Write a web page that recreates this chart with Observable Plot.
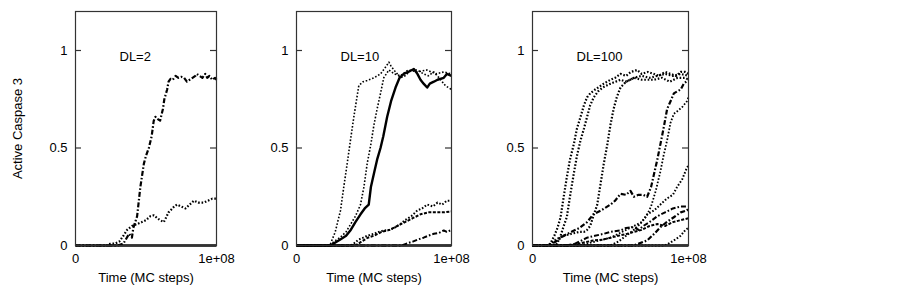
<!DOCTYPE html>
<html><head><meta charset="utf-8">
<script src="https://cdn.jsdelivr.net/npm/d3@7"></script>
<script src="https://cdn.jsdelivr.net/npm/@observablehq/plot@0.6"></script>
<style>
body{margin:0;background:#fff}
#c{position:relative;width:902px;height:301px;font-family:"Liberation Sans",Arial,sans-serif}
#c > div{position:absolute;top:0}
</style>
</head><body><div id="c"></div><script>
// ---- axis ticks ----
const yTicks = [0, 0.5, 1];
const yTickLabels = ["0", "0.5", "1"];
const xTicks = [0, 1e8];
const xTickLabels = ["0", "1e+08"];
const panelTitles = ["DL=2", "DL=10", "DL=100"];
const yLabel = "Active Caspase 3";
const xLabel = "Time (MC steps)";

// ---- data: time in millions of MC steps, value = active caspase 3 ----
const zeroT = [0, 100];
const zeroV = [0, 0];

// DL=2
const dl2aT = [0,30,34,38,40,41,43.7,46,48.5,50,52,54,55.5,56.7,58,60,62,63,65,66,67.4,69,71,73,75,77,79,81,83,85,86,88,90,92,93.4,95,97,99,100];
const dl2aV = [0,0,0.01,0.06,0.04,0.09,0.15,0.3,0.42,0.46,0.5,0.56,0.64,0.66,0.65,0.64,0.7,0.75,0.8,0.84,0.855,0.85,0.87,0.86,0.865,0.86,0.84,0.85,0.86,0.87,0.88,0.87,0.86,0.88,0.86,0.87,0.85,0.86,0.85];
const dl2bT = [0,22,25,28,31,34,36.6,40,43.7,47,50,53,55.5,58,60,62.6,64,66,67.4,70,72,75,78,81,84,87,91,94,97,100];
const dl2bV = [0,0,0.01,0.01,0.02,0.05,0.08,0.1,0.11,0.12,0.13,0.15,0.155,0.14,0.13,0.12,0.14,0.17,0.18,0.2,0.21,0.2,0.19,0.21,0.23,0.22,0.22,0.23,0.24,0.24];

// DL=10
const dl10aT = [0,20,22,25,28.4,30.5,32.7,35,37,39,40.2,43,45.6,50,54.2,57,59.6,61,62.8,65,67,70,74,77.9,82,85,88.6,92,96,100];
const dl10aV = [0,0,0.01,0.07,0.18,0.3,0.42,0.55,0.66,0.76,0.82,0.84,0.846,0.86,0.88,0.91,0.94,0.92,0.9,0.88,0.86,0.87,0.9,0.9,0.88,0.87,0.89,0.86,0.82,0.80];
const dl10bT = [0,22,24,28,32,35,38,41.3,43.5,45.6,48,50,52,54.2,56.3,59.6,63,67,72,78,84,90,95,100];
const dl10bV = [0,0,0.02,0.04,0.07,0.11,0.15,0.21,0.3,0.42,0.52,0.62,0.7,0.78,0.86,0.9,0.88,0.87,0.9,0.89,0.9,0.88,0.89,0.88];
const dl10cT = [0,22,24,28,32,35,38,41.3,44,46.6,48,50,52,54.2,56,58.5,61,63.9,66.5,69.2,72,75.7,78,80,82,84.3,86,88.6,91,95,97,100];
const dl10cV = [0,0,0.01,0.03,0.05,0.08,0.12,0.16,0.19,0.21,0.3,0.37,0.44,0.5,0.56,0.66,0.74,0.81,0.86,0.88,0.89,0.905,0.88,0.85,0.83,0.81,0.83,0.84,0.85,0.86,0.88,0.87];
const dl10dT = [0,35,37,40,43,45.6,50,53,56.3,60,63,67,70,74,78,81,84.3,88,91,94,97,100];
const dl10dV = [0,0,0.01,0.03,0.04,0.05,0.06,0.07,0.077,0.08,0.09,0.11,0.13,0.15,0.18,0.19,0.21,0.2,0.22,0.21,0.23,0.23];
const dl10eT = [0,38,42,46,50,55,60,65,70,75,80,85,90,95,100];
const dl10eV = [0,0,0.02,0.04,0.05,0.07,0.08,0.1,0.12,0.14,0.16,0.17,0.17,0.17,0.175];
const dl10fT = [0,68,71,75,78,82,85,88.6,92,95,97,100];
const dl10fV = [0,0,0.01,0.02,0.03,0.04,0.05,0.06,0.065,0.077,0.07,0.08];

// DL=100
const dl100aT = [0,10,11.5,14,16,18,20,22,24,26.5,28.5,30.8,33,35,37,39.3,42,45.7,50,53,56.4,60,63,67,70,74,77.8,81,85,88.5,92,95,98,100];
const dl100aV = [0,0,0.01,0.05,0.09,0.145,0.25,0.35,0.44,0.52,0.6,0.66,0.72,0.76,0.78,0.795,0.81,0.83,0.85,0.86,0.88,0.87,0.89,0.9,0.88,0.89,0.88,0.87,0.89,0.88,0.87,0.89,0.89,0.88];
const dl100bT = [0,14,15.8,18,20,22,24,26.5,28.5,30.8,33,35,37,39.3,42,45,50,56.4,60,65,70,77.8,83,88,93,98,100];
const dl100bV = [0,0,0.01,0.05,0.1,0.145,0.25,0.37,0.46,0.54,0.6,0.66,0.72,0.76,0.79,0.81,0.83,0.85,0.84,0.86,0.85,0.85,0.86,0.84,0.86,0.86,0.85];
const dl100cT = [0,10,15,20,25,30,33,35,37,39,41.5,43.5,45.7,48,50,52,54,56.4,60,65,70,75,80,85,90,95,100];
const dl100cV = [0,0,0.03,0.05,0.06,0.07,0.07,0.08,0.1,0.15,0.21,0.31,0.42,0.52,0.62,0.7,0.76,0.81,0.84,0.86,0.87,0.86,0.87,0.88,0.87,0.88,0.87];
const dl100dT = [0,10,15,20,25,30,35,39,44,50,53,56.4,60,62.8,65,68,71,73.5,76,78,80,82,84,86.3,88.5,90.6,92.7,95,97,100];
const dl100dV = [0,0,0.02,0.05,0.07,0.09,0.12,0.16,0.18,0.21,0.23,0.265,0.26,0.28,0.25,0.26,0.26,0.25,0.3,0.37,0.44,0.52,0.6,0.7,0.74,0.78,0.79,0.8,0.83,0.85];
const dl100eT = [0,30,40,50,55,60,65,70,73,76,79,82,84,86.3,88.5,90.6,93,96,99,100];
const dl100eV = [0,0,0.02,0.04,0.06,0.08,0.1,0.12,0.15,0.2,0.28,0.38,0.46,0.54,0.63,0.675,0.69,0.71,0.74,0.76];
const dl100fT = [0,25,30,35,40,45.7,50,56.4,60,65,68,71,75,80,85,90,95,100];
const dl100fV = [0,0,0.02,0.04,0.05,0.06,0.07,0.077,0.09,0.094,0.08,0.1,0.12,0.15,0.17,0.19,0.2,0.2];
const dl100gT = [0,20,30,39,45,50,55,60.7,65,70,75,80,85,90,95,100];
const dl100gV = [0,0,0.01,0.026,0.03,0.04,0.05,0.06,0.07,0.08,0.1,0.11,0.1,0.12,0.13,0.14];
const dl100hT = [0,65,73.5,78,82,86,90.6,95,99,100];
const dl100hV = [0,0,0.026,0.06,0.094,0.12,0.145,0.17,0.18,0.19];
const dl100iT = [0,50,55,60,65,70,73.5,78,82,86,90,92.7,96,99,100];
const dl100iV = [0,0,0.02,0.05,0.08,0.12,0.16,0.18,0.21,0.24,0.26,0.3,0.34,0.4,0.41];
const dl100jT = [0,85,90.6,95,98,100];
const dl100jV = [0,0,0.026,0.05,0.08,0.09];

// ---- line styles ----
const DOT = "1.6,1.8", DASHDOT = "5,2,1.6,2", DASH = "3,1.5";

const panels = [
  {title: panelTitles[0], left: 0, width: 250, ml: 75, mr: 34, ylab: true, series: [
    {t: zeroT, v: zeroV, w: 2.5, dash: null},
    {t: dl2bT, v: dl2bV, w: 2.2, dash: DOT},
    {t: dl2aT, v: dl2aV, w: 2.2, dash: DASHDOT}
  ]},
  {title: panelTitles[1], left: 250, width: 230, ml: 46, mr: 29, ylab: false, series: [
    {t: zeroT, v: zeroV, w: 2.5, dash: null},
    {t: dl10aT, v: dl10aV, w: 1.6, dash: DOT},
    {t: dl10bT, v: dl10bV, w: 1.6, dash: DOT},
    {t: dl10cT, v: dl10cV, w: 2.4, dash: null},
    {t: dl10dT, v: dl10dV, w: 2, dash: DOT},
    {t: dl10eT, v: dl10eV, w: 2, dash: DASH},
    {t: dl10fT, v: dl10fV, w: 2, dash: DASHDOT}
  ]},
  {title: panelTitles[2], left: 480, width: 240, ml: 52, mr: 32, ylab: false, series: [
    {t: zeroT, v: zeroV, w: 2.5, dash: null},
    {t: dl100aT, v: dl100aV, w: 2.2, dash: DOT},
    {t: dl100bT, v: dl100bV, w: 2.2, dash: DOT},
    {t: dl100cT, v: dl100cV, w: 2.2, dash: DOT},
    {t: dl100dT, v: dl100dV, w: 2.2, dash: DASHDOT},
    {t: dl100eT, v: dl100eV, w: 1.8, dash: DOT},
    {t: dl100fT, v: dl100fV, w: 2, dash: DASHDOT},
    {t: dl100gT, v: dl100gV, w: 2, dash: DASH},
    {t: dl100hT, v: dl100hV, w: 2.2, dash: DASHDOT},
    {t: dl100iT, v: dl100iV, w: 2, dash: DOT},
    {t: dl100jT, v: dl100jV, w: 2, dash: DOT}
  ]}
];

const root = document.getElementById("c");
for (const p of panels) {
  const fw = p.width - p.ml - p.mr;
  const marks = [];
  for (const s of p.series) {
    const rows = s.t.map((t, i) => ({x: t * 1e6, y: s.v[i]}));
    marks.push(Plot.line(rows, {x: "x", y: "y", stroke: "black", strokeWidth: s.w, strokeDasharray: s.dash, strokeLinecap: "butt"}));
  }
  marks.push(Plot.frame({stroke: "#333", strokeWidth: 1.2}));
  marks.push(Plot.tickY(yTicks, {y: d => d, insetRight: fw - 6, stroke: "#333", strokeWidth: 1.2}));
  marks.push(Plot.tickY(yTicks, {y: d => d, insetLeft: fw - 6, stroke: "#333", strokeWidth: 1.2}));
  marks.push(Plot.text([p.title], {frameAnchor: "top-left", dx: 44, dy: 40, textAnchor: "start", fontSize: 13}));
  marks.push(Plot.text([xLabel], {frameAnchor: "bottom", dy: 36, textAnchor: "middle", fontSize: 13}));
  if (p.ylab) marks.push(Plot.text([yLabel], {frameAnchor: "left", dx: -58, rotate: -90, textAnchor: "middle", fontSize: 13}));
  const chart = Plot.plot({
    width: p.width, height: 301,
    marginLeft: p.ml, marginRight: p.mr, marginTop: 11, marginBottom: 56,
    style: {fontFamily: "'Liberation Sans', Arial, sans-serif", fontSize: "13px", background: "white", color: "black", overflow: "visible"},
    x: {domain: [0, 1e8], ticks: xTicks, tickFormat: d => xTickLabels[xTicks.indexOf(d)], tickSize: 0, tickPadding: 8, label: null},
    y: {domain: [0, 1.2], ticks: yTicks, tickFormat: d => yTickLabels[yTicks.indexOf(d)], tickSize: 0, tickPadding: 8, label: null},
    marks
  });
  const wrap = document.createElement("div");
  wrap.style.left = p.left + "px";
  wrap.appendChild(chart);
  root.appendChild(wrap);
}
</script></body></html>
